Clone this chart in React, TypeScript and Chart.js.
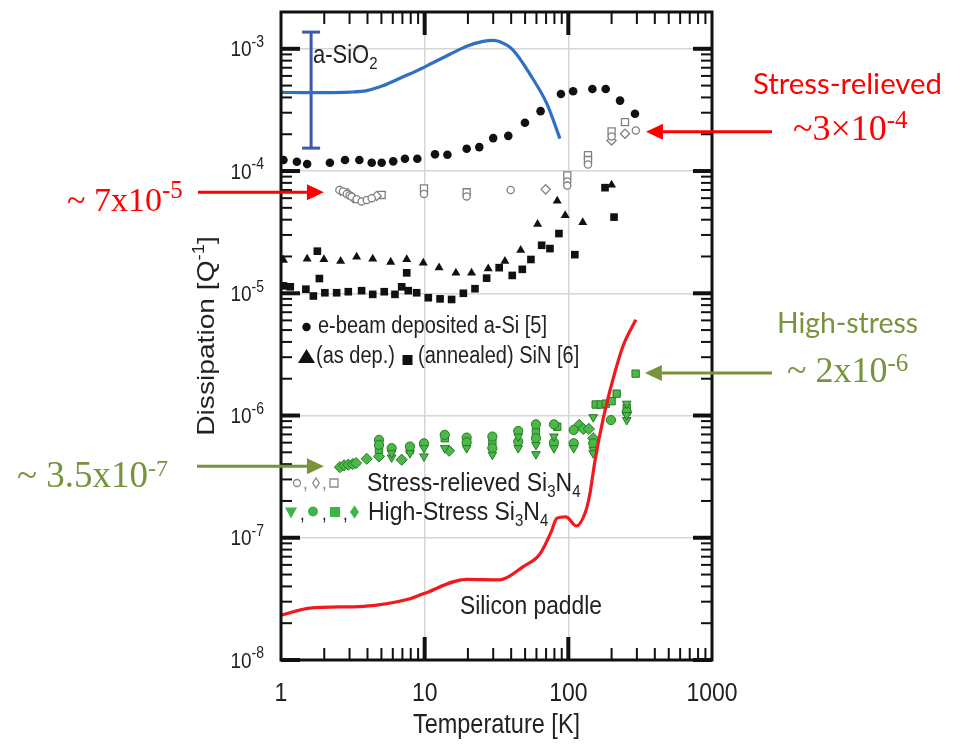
import React, { useEffect, useRef } from "react";
import { Chart, registerables } from "chart.js";

Chart.register(...registerables);

// ---------------- data ----------------
const xTickValues = [1, 10, 100, 1000];
const xTickLabels = ["1", "10", "100", "1000"];
const yTickExponents = [-8, -7, -6, -5, -4, -3];

// a-SiO2 curve (blue)
const sio2T = [1, 1.5, 2, 3, 3.95, 5.16, 6.72, 8.8, 11.5, 15, 19.6, 25.5, 30, 33.4, 41.1, 54, 71, 87.4];
const sio2Q = [4.4e-4, 4.38e-4, 4.38e-4, 4.42e-4, 4.55e-4, 5.0e-4, 5.75e-4, 6.6e-4, 7.73e-4, 9.02e-4, 1.05e-3, 1.15e-3, 1.17e-3, 1.14e-3, 9.8e-4, 6.21e-4, 3.54e-4, 1.84e-4];
// a-SiO2 range bar
const sio2BarT = [1.62, 1.62];
const sio2BarQ = [1.37e-3, 1.54e-4];

// Silicon paddle (red)
const paddleT = [1, 1.59, 3.74, 7.9, 9.78, 19.6, 33.4, 48.6, 63.4, 76.5, 83, 96.2, 114, 131, 141, 153, 175, 205, 241, 295];
const paddleQ = [2.32e-8, 2.66e-8, 2.75e-8, 3.17e-8, 3.48e-8, 4.57e-8, 4.53e-8, 5.81e-8, 7.36e-8, 1.14e-7, 1.44e-7, 1.48e-7, 1.25e-7, 1.6e-7, 2.26e-7, 4.21e-7, 9.46e-7, 2.0e-6, 3.74e-6, 6.08e-6];

// e-beam deposited a-Si [5]
const aSiT = [1.04, 1.29, 1.52, 2.19, 2.79, 3.51, 4.28, 5.02, 6.04, 7.29, 8.89, 11.8, 14.4, 19.6, 24.0, 30.0, 38.2, 49.9, 64.1, 88.8, 108, 147, 182, 229, 291];
const aSiQ = [1.23e-4, 1.19e-4, 1.14e-4, 1.17e-4, 1.23e-4, 1.23e-4, 1.17e-4, 1.17e-4, 1.2e-4, 1.26e-4, 1.26e-4, 1.37e-4, 1.36e-4, 1.52e-4, 1.57e-4, 1.86e-4, 1.94e-4, 2.48e-4, 3.09e-4, 4.27e-4, 4.49e-4, 4.69e-4, 4.69e-4, 3.77e-4, 2.94e-4];

// SiN [6] as deposited (triangles)
const sinAsDepT = [1.04, 1.52, 1.99, 2.6, 3.36, 4.35, 5.8, 7.5, 9.78, 12.6, 16.5, 21.2, 27.7, 36.2, 46.6, 61.1, 83.7, 95.1, 126, 200];
const sinAsDepQ = [1.87e-5, 1.91e-5, 1.89e-5, 1.83e-5, 1.98e-5, 1.91e-5, 1.8e-5, 1.89e-5, 1.77e-5, 1.62e-5, 1.47e-5, 1.47e-5, 1.59e-5, 1.83e-5, 2.25e-5, 3.68e-5, 5.69e-5, 4.33e-5, 3.8e-5, 7.69e-5];

// SiN [6] annealed (squares)
const sinAnnT = [1.04, 1.16, 1.49, 1.68, 1.79, 1.85, 2.02, 2.44, 2.94, 3.64, 4.35, 5.23, 6.21, 6.92, 7.5, 7.69, 8.8, 10.6, 12.8, 15.4, 18.6, 22.4, 27.0, 33.0, 40.7, 47.8, 54.9, 65.2, 74.5, 86.0, 111, 180, 208];
const sinAnnQ = [1.15e-5, 1.13e-5, 1.08e-5, 9.5e-6, 2.21e-5, 1.32e-5, 1.01e-5, 1.01e-5, 1.03e-5, 1.05e-5, 9.8e-6, 1.03e-5, 9.8e-6, 1.13e-5, 1.47e-5, 1.05e-5, 1.01e-5, 9.2e-6, 9.0e-6, 8.9e-6, 1.0e-5, 1.09e-5, 1.33e-5, 1.62e-5, 1.4e-5, 1.57e-5, 1.89e-5, 2.47e-5, 2.32e-5, 3.08e-5, 2.07e-5, 7.31e-5, 4.2e-5];

// Stress-relieved Si3N4 (open markers)
const srCircleT = [2.55, 2.7, 2.87, 3.0, 3.1, 3.36, 3.64, 3.95, 4.28, 9.89, 19.6, 39.7, 98.3, 98.3, 137, 200, 295];
const srCircleQ = [7.0e-5, 6.8e-5, 6.5e-5, 6.3e-5, 6.18e-5, 5.88e-5, 5.63e-5, 5.8e-5, 6.0e-5, 6.5e-5, 6.2e-5, 7.0e-5, 8.2e-5, 7.6e-5, 1.13e-4, 1.92e-4, 2.15e-4];
const srDiamondT = [2.6, 2.9, 3.2, 4.63, 69.5, 200, 248];
const srDiamondQ = [6.9e-5, 6.6e-5, 6.0e-5, 6.26e-5, 7.08e-5, 1.78e-4, 2.02e-4];
const srSquareT = [5.02, 9.89, 19.6, 98.3, 137, 137, 200, 248];
const srSquareQ = [6.37e-5, 7.2e-5, 6.7e-5, 9.2e-5, 1.35e-4, 1.23e-4, 2.11e-4, 2.51e-4];

// High-stress Si3N4 (green markers)
const hsTriT = [5.89, 5.89, 7.9, 9.89, 9.89, 13.8, 19.6, 29.6, 44.8, 44.8, 59.5, 59.5, 79.4, 79.4, 109, 149, 149, 149, 255, 255, 255];
const hsTriQ = [4.54e-7, 4.92e-7, 4.92e-7, 4.63e-7, 5.41e-7, 5.41e-7, 5.41e-7, 4.78e-7, 5.41e-7, 6.73e-7, 4.83e-7, 5.75e-7, 5.41e-7, 6.73e-7, 5.41e-7, 9.7e-7, 5.25e-7, 4.92e-7, 9.18e-7, 1.01e-6, 1.25e-6];
const hsCircleT = [4.81, 4.81, 5.89, 7.9, 9.89, 13.8, 19.6, 19.6, 29.6, 29.6, 44.8, 44.8, 59.5, 59.5, 79.4, 79.4, 109, 109, 149, 198, 255];
const hsCircleQ = [6.32e-7, 5.75e-7, 5.41e-7, 5.58e-7, 5.93e-7, 6.95e-7, 6.6e-7, 6.04e-7, 6.73e-7, 5.41e-7, 7.48e-7, 6.12e-7, 8.47e-7, 6.52e-7, 8.47e-7, 6.01e-7, 7.62e-7, 5.93e-7, 5.93e-7, 9.18e-7, 1.07e-6];
const hsSquareT = [4.81, 7.9, 13.8, 29.6, 59.5, 83.7, 155, 168, 182, 200, 217, 294, 255];
const hsSquareQ = [5.25e-7, 5.25e-7, 6.52e-7, 6.12e-7, 7.38e-7, 8.1e-7, 1.23e-6, 1.23e-6, 1.25e-6, 1.31e-6, 1.51e-6, 2.2e-6, 1.16e-6];
const hsDiamondT = [2.57, 2.75, 2.94, 3.16, 3.33, 3.95, 4.81, 6.92, 14.8, 119, 127, 139, 149];
const hsDiamondQ = [3.78e-7, 3.91e-7, 3.96e-7, 4.01e-7, 4.08e-7, 4.43e-7, 4.63e-7, 4.35e-7, 5.15e-7, 8.38e-7, 7.77e-7, 7.77e-7, 6.52e-7];

// annotation arrow tips (data coordinates) and texts
const annoTipT = [1.99, 347, 341, 1.99];
const annoTipQ = [6.7e-5, 2.1e-4, 2.23e-6, 3.84e-7];
const annoHeads = ["", "Stress-relieved", "High-stress", ""];
const annoMain = ["~ 7x10", "~3\u00d710", "~ 2x10", "~ 3.5x10"];
const annoExp = ["-5", "-4", "-6", "-7"];

// ---------------- helpers ----------------
const SANS = '"Liberation Sans", Arial, sans-serif';
const SERIF = '"Liberation Serif", "Times New Roman", serif';
const CAL = 'Lato, "Open Sans", sans-serif';
const FIG = "#222222";
const SY = 1.15; // vertical stretch of the embedded figure's text
const RED = "#ff0000";
const OLIVE = "#77933c";

const pts = (t: number[], q: number[]) => t.map((v, i) => ({ x: v, y: q[i] }));

type Run = { t: string; s: number; dy?: number };

function drawRuns(
  ctx: CanvasRenderingContext2D,
  runs: Run[],
  x: number,
  y: number,
  family: string,
  color: string,
  align: "left" | "center" | "right" = "left",
  sy = 1,
  rot = 0
) {
  ctx.save();
  ctx.translate(x, y);
  ctx.scale(1, sy);
  if (rot) ctx.rotate(rot);
  let w = 0;
  for (const r of runs) {
    ctx.font = `${r.s}px ${family}`;
    w += ctx.measureText(r.t).width;
  }
  let cx = align === "center" ? -w / 2 : align === "right" ? -w : 0;
  ctx.fillStyle = color;
  ctx.textAlign = "left";
  ctx.textBaseline = "alphabetic";
  for (const r of runs) {
    ctx.font = `${r.s}px ${family}`;
    ctx.fillText(r.t, cx, r.dy || 0);
    cx += ctx.measureText(r.t).width;
  }
  ctx.restore();
}

function fitText(ctx: CanvasRenderingContext2D, text: string, x: number, y: number, width: number, family: string, color: string) {
  ctx.save();
  ctx.font = `100px ${family}`;
  const w = ctx.measureText(text).width;
  const size = (100 * width) / w;
  ctx.font = `${size}px ${family}`;
  ctx.fillStyle = color;
  ctx.textAlign = "left";
  ctx.textBaseline = "alphabetic";
  ctx.fillText(text, x, y);
  ctx.restore();
}

function arrow(ctx: CanvasRenderingContext2D, x0: number, y0: number, x1: number, y1: number, color: string) {
  const ang = Math.atan2(y1 - y0, x1 - x0);
  const hl = 17;
  const hw = 8;
  const bx = x1 - hl * Math.cos(ang);
  const by = y1 - hl * Math.sin(ang);
  ctx.save();
  ctx.strokeStyle = color;
  ctx.lineWidth = 3;
  ctx.beginPath();
  ctx.moveTo(x0, y0);
  ctx.lineTo(bx, by);
  ctx.stroke();
  ctx.fillStyle = color;
  ctx.beginPath();
  ctx.moveTo(x1, y1);
  ctx.lineTo(bx - hw * Math.sin(ang), by + hw * Math.cos(ang));
  ctx.lineTo(bx + hw * Math.sin(ang), by - hw * Math.cos(ang));
  ctx.closePath();
  ctx.fill();
  ctx.restore();
}

function seg(ctx: CanvasRenderingContext2D, x0: number, y0: number, x1: number, y1: number) {
  ctx.beginPath();
  ctx.moveTo(x0, y0);
  ctx.lineTo(x1, y1);
  ctx.stroke();
}

function shape(ctx: CanvasRenderingContext2D, kind: string, x: number, y: number, w: number, h: number, fill: string | null, stroke: string | null) {
  ctx.beginPath();
  if (kind === "circle") ctx.arc(x, y, w / 2, 0, Math.PI * 2);
  else if (kind === "square") ctx.rect(x - w / 2, y - h / 2, w, h);
  else if (kind === "triUp") {
    ctx.moveTo(x, y - h / 2);
    ctx.lineTo(x + w / 2, y + h / 2);
    ctx.lineTo(x - w / 2, y + h / 2);
    ctx.closePath();
  } else if (kind === "triDown") {
    ctx.moveTo(x - w / 2, y - h / 2);
    ctx.lineTo(x + w / 2, y - h / 2);
    ctx.lineTo(x, y + h / 2);
    ctx.closePath();
  } else if (kind === "diamond") {
    ctx.moveTo(x, y - h / 2);
    ctx.lineTo(x + w / 2, y);
    ctx.lineTo(x, y + h / 2);
    ctx.lineTo(x - w / 2, y);
    ctx.closePath();
  }
  if (fill) {
    ctx.fillStyle = fill;
    ctx.fill();
  }
  if (stroke) {
    ctx.strokeStyle = stroke;
    ctx.lineWidth = 1.3;
    ctx.stroke();
  }
}

const figurePlugin = {
  id: "figureDecor",
  afterDraw(chart: any) {
    const ctx: CanvasRenderingContext2D = chart.ctx;
    const xs = chart.scales.x;
    const ys = chart.scales.y;
    const { left, right, top, bottom } = chart.chartArea;
    ctx.save();

    // frame
    ctx.strokeStyle = "#111";
    ctx.lineWidth = 3;
    ctx.strokeRect(left, top, right - left, bottom - top);

    // y ticks (both sides, inward)
    for (let e = yTickExponents[0]; e <= yTickExponents[yTickExponents.length - 1]; e++) {
      for (let m = 1; m <= 9; m++) {
        const v = m * Math.pow(10, e);
        if (v >= ys.max * 0.999) break;
        const py = ys.getPixelForValue(v);
        const major = m === 1;
        ctx.lineWidth = major ? 4 : 2;
        const len = major ? 19 : 11;
        seg(ctx, left, py, left + len, py);
        seg(ctx, right, py, right - len, py);
      }
    }
    // x ticks (top and bottom, inward)
    for (let e = 0; e < 3; e++) {
      for (let m = 1; m <= 9; m++) {
        const v = m * Math.pow(10, e);
        if (v <= xs.min * 1.001) continue;
        const px = xs.getPixelForValue(v);
        const major = m === 1;
        ctx.lineWidth = major ? 4 : 2;
        const len = major ? 23 : 12;
        seg(ctx, px, bottom, px, bottom - len);
        seg(ctx, px, top, px, top + len);
      }
    }

    // y tick labels
    yTickExponents.forEach((e) => {
      const py = ys.getPixelForValue(Math.pow(10, e));
      drawRuns(ctx, [{ t: "10", s: 19 }, { t: String(e), s: 14, dy: -8 }], 264, py + 7.5, SANS, FIG, "right", SY);
    });
    // x tick labels
    xTickValues.forEach((v, i) => {
      const px = xs.getPixelForValue(v);
      drawRuns(ctx, [{ t: xTickLabels[i], s: 23 }], px, 701, SANS, FIG, "center", SY);
    });

    // axis titles
    drawRuns(ctx, [{ t: "Temperature [K]", s: 23.5 }], (left + right) / 2, 733, SANS, FIG, "center", SY);
    drawRuns(
      ctx,
      [{ t: "Dissipation [Q", s: 24.5 }, { t: "-1", s: 16, dy: -10 }, { t: "]", s: 24.5 }],
      214,
      (top + bottom) / 2,
      SANS,
      FIG,
      "center",
      SY,
      -Math.PI / 2
    );

    // curve labels
    drawRuns(ctx, [{ t: "a-SiO", s: 22 }, { t: "2", s: 15, dy: 5 }], 313, 63, SANS, FIG, "left", SY);
    drawRuns(ctx, [{ t: "Silicon paddle", s: 22.8 }], 460, 614, SANS, FIG, "left", SY);

    // in-plot legend
    shape(ctx, "circle", 306.5, 327, 8.5, 8.5, "#111", null);
    drawRuns(ctx, [{ t: "e-beam deposited a-Si [5]", s: 20 }], 318, 333, SANS, FIG, "left", SY);
    shape(ctx, "triUp", 306.5, 356, 17, 14, "#111", null);
    drawRuns(ctx, [{ t: "(as dep.)", s: 20 }], 316, 363, SANS, FIG, "left", SY);
    shape(ctx, "square", 407.5, 360, 10, 10, "#111", null);
    drawRuns(ctx, [{ t: "(annealed) SiN [6]", s: 20 }], 418, 363, SANS, FIG, "left", SY);

    const GR = "#8a8a8a";
    shape(ctx, "circle", 297, 483, 7, 7, "#fff", GR);
    drawRuns(ctx, [{ t: ",", s: 17 }], 303, 489, SANS, GR, "left", SY);
    shape(ctx, "diamond", 316, 483, 6.5, 10, "#fff", GR);
    drawRuns(ctx, [{ t: ",", s: 17 }], 322, 489, SANS, GR, "left", SY);
    shape(ctx, "square", 334, 483, 8, 8, "#fff", GR);
    drawRuns(
      ctx,
      [{ t: "Stress-relieved Si", s: 23 }, { t: "3", s: 15, dy: 5 }, { t: "N", s: 23 }, { t: "4", s: 15, dy: 5 }],
      367,
      491,
      SANS,
      FIG,
      "left",
      SY
    );

    const GN = "#3fb449";
    shape(ctx, "triDown", 291, 513, 12, 11, GN, null);
    drawRuns(ctx, [{ t: ",", s: 17 }], 300, 520, SANS, FIG, "left", SY);
    shape(ctx, "circle", 313, 511.5, 10, 10, GN, null);
    drawRuns(ctx, [{ t: ",", s: 17 }], 322, 520, SANS, FIG, "left", SY);
    shape(ctx, "square", 335, 512, 10, 10, GN, null);
    drawRuns(ctx, [{ t: ",", s: 17 }], 343, 520, SANS, FIG, "left", SY);
    shape(ctx, "diamond", 354.5, 512, 9, 13, GN, null);
    drawRuns(
      ctx,
      [{ t: "High-Stress Si", s: 23 }, { t: "3", s: 15, dy: 5 }, { t: "N", s: 23 }, { t: "4", s: 15, dy: 5 }],
      368,
      520,
      SANS,
      FIG,
      "left",
      SY
    );

    // annotations
    const tip = (i: number) => ({ x: xs.getPixelForValue(annoTipT[i]), y: ys.getPixelForValue(annoTipQ[i]) });

    // 0: ~7x10^-5 (left, red)
    let p = tip(0);
    arrow(ctx, 198, p.y, p.x, p.y, RED);
    drawRuns(ctx, [{ t: annoMain[0], s: 34 }, { t: annoExp[0], s: 25, dy: -13 }], 67, 211, SERIF, RED);

    // 1: Stress-relieved ~3x10^-4 (right, red)
    p = tip(1);
    arrow(ctx, 772, p.y, p.x, p.y, RED);
    fitText(ctx, annoHeads[1], 753, 94, 189, CAL, RED);
    drawRuns(ctx, [{ t: annoMain[1], s: 36 }, { t: annoExp[1], s: 25, dy: -12 }], 793, 140, SERIF, RED);

    // 2: High-stress ~2x10^-6 (right, olive)
    p = tip(2);
    arrow(ctx, 772, p.y, p.x, p.y, OLIVE);
    fitText(ctx, annoHeads[2], 777, 333, 141, CAL, OLIVE);
    drawRuns(ctx, [{ t: annoMain[2], s: 36 }, { t: annoExp[2], s: 25, dy: -11 }], 787, 382, SERIF, OLIVE);

    // 3: ~3.5x10^-7 (left, olive)
    p = tip(3);
    arrow(ctx, 197, p.y, p.x, p.y, OLIVE);
    drawRuns(ctx, [{ t: annoMain[3], s: 37 }, { t: annoExp[3], s: 24, dy: -11 }], 17, 487, SERIF, OLIVE);

    ctx.restore();
  },
};

export default function App() {
  const ref = useRef<HTMLCanvasElement | null>(null);

  useEffect(() => {
    if (!ref.current) return;
    const green = { bg: "#4cb84a", bd: "#257a25" };
    const open = { bg: "#ffffff", bd: "#808080" };
    const chart = new Chart(ref.current, {
      type: "scatter",
      data: {
        datasets: [
          {
            label: "Silicon paddle",
            data: pts(paddleT, paddleQ),
            showLine: true,
            borderColor: "#f2191e",
            borderWidth: 3.2,
            pointRadius: 0,
            cubicInterpolationMode: "monotone",
          },
          {
            label: "a-SiO2",
            data: pts(sio2T, sio2Q),
            showLine: true,
            borderColor: "#2e70c2",
            borderWidth: 3.2,
            pointRadius: 0,
            cubicInterpolationMode: "monotone",
          },
          {
            label: "a-SiO2 range",
            data: pts(sio2BarT, sio2BarQ),
            showLine: true,
            borderColor: "#3f58aa",
            borderWidth: 3,
            pointStyle: "line",
            pointRadius: 9,
            pointBorderWidth: 3,
            pointBorderColor: "#3f58aa",
          },
          {
            label: "e-beam a-Si",
            data: pts(aSiT, aSiQ),
            pointStyle: "circle",
            pointRadius: 4.3,
            pointBackgroundColor: "#111",
            pointBorderColor: "#111",
            pointBorderWidth: 0,
          },
          {
            label: "SiN as dep.",
            data: pts(sinAsDepT, sinAsDepQ),
            pointStyle: "triangle",
            pointRadius: 5.2,
            pointBackgroundColor: "#111",
            pointBorderColor: "#111",
            pointBorderWidth: 0,
          },
          {
            label: "SiN annealed",
            data: pts(sinAnnT, sinAnnQ),
            pointStyle: "rect",
            pointRadius: 5.4,
            pointBackgroundColor: "#111",
            pointBorderColor: "#111",
            pointBorderWidth: 0,
          },
          {
            label: "SR circle",
            data: pts(srCircleT, srCircleQ),
            pointStyle: "circle",
            pointRadius: 3.6,
            pointBackgroundColor: open.bg,
            pointBorderColor: open.bd,
            pointBorderWidth: 1.3,
          },
          {
            label: "SR diamond",
            data: pts(srDiamondT, srDiamondQ),
            pointStyle: "rectRot",
            pointRadius: 4.6,
            pointBackgroundColor: open.bg,
            pointBorderColor: open.bd,
            pointBorderWidth: 1.3,
          },
          {
            label: "SR square",
            data: pts(srSquareT, srSquareQ),
            pointStyle: "rect",
            pointRadius: 5,
            pointBackgroundColor: open.bg,
            pointBorderColor: open.bd,
            pointBorderWidth: 1.3,
          },
          {
            label: "HS triangle",
            data: pts(hsTriT, hsTriQ),
            pointStyle: "triangle",
            pointRotation: 180,
            pointRadius: 5,
            pointBackgroundColor: green.bg,
            pointBorderColor: green.bd,
            pointBorderWidth: 1,
          },
          {
            label: "HS circle",
            data: pts(hsCircleT, hsCircleQ),
            pointStyle: "circle",
            pointRadius: 4.6,
            pointBackgroundColor: green.bg,
            pointBorderColor: green.bd,
            pointBorderWidth: 1,
          },
          {
            label: "HS square",
            data: pts(hsSquareT, hsSquareQ),
            pointStyle: "rect",
            pointRadius: 5.2,
            pointBackgroundColor: green.bg,
            pointBorderColor: green.bd,
            pointBorderWidth: 1,
          },
          {
            label: "HS diamond",
            data: pts(hsDiamondT, hsDiamondQ),
            pointStyle: "rectRot",
            pointRadius: 5.6,
            pointBackgroundColor: green.bg,
            pointBorderColor: green.bd,
            pointBorderWidth: 1,
          },
        ] as any,
      },
      options: {
        animation: false,
        responsive: false,
        maintainAspectRatio: false,
        devicePixelRatio: 1,
        layout: { padding: { left: 281, right: 245, top: 7, bottom: 87 } },
        plugins: { legend: { display: false }, tooltip: { enabled: false } },
        scales: {
          x: {
            type: "logarithmic",
            min: 1,
            max: 1000,
            afterBuildTicks: (s: any) => {
              s.ticks = xTickValues.map((v) => ({ value: v }));
            },
            ticks: { display: false },
            border: { display: false },
            grid: {
              drawTicks: false,
              lineWidth: 1.5,
              color: (c: any) => (c.index === 0 || c.index === xTickValues.length - 1 ? "rgba(0,0,0,0)" : "#d6d6d6"),
            },
          },
          y: {
            type: "logarithmic",
            min: 1e-8,
            max: 2e-3,
            afterBuildTicks: (s: any) => {
              s.ticks = yTickExponents.map((e) => ({ value: Math.pow(10, e) }));
            },
            ticks: { display: false },
            border: { display: false },
            grid: {
              drawTicks: false,
              lineWidth: 1.5,
              color: (c: any) => (c.index === 0 ? "rgba(0,0,0,0)" : "#d6d6d6"),
            },
          },
        },
      } as any,
      plugins: [figurePlugin],
    });
    return () => chart.destroy();
  }, []);

  return (
    <div style={{ position: "absolute", left: 0, top: 0, width: 957, height: 747, background: "#fff" }}>
      <canvas ref={ref} width={957} height={747} style={{ display: "block" }} />
    </div>
  );
}
